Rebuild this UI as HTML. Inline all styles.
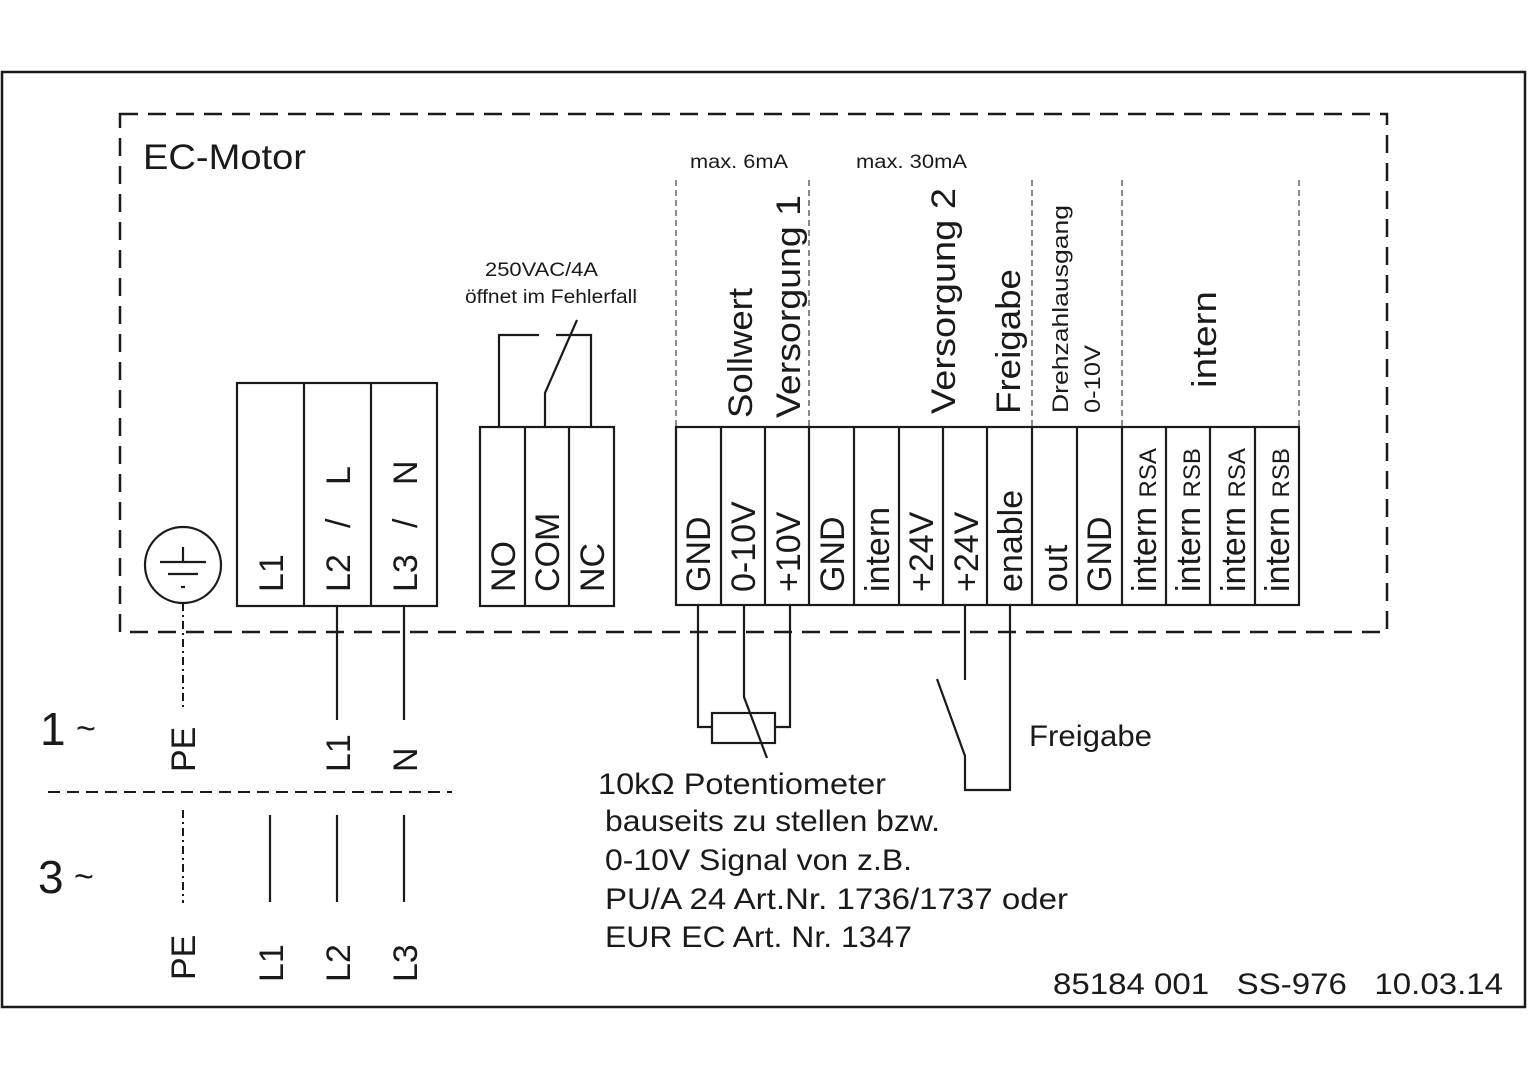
<!DOCTYPE html>
<html><head><meta charset="utf-8"><style>
html,body{margin:0;padding:0;background:#fff;}
svg{display:block;}
text{font-family:"Liberation Sans",sans-serif;fill:#1a1a1a;}
</style></head><body>
<svg width="1528" height="1080" viewBox="0 0 1528 1080" xmlns="http://www.w3.org/2000/svg">
<g fill="none" stroke="#1a1a1a">
<rect x="2" y="72" width="1523" height="935" stroke-width="2.5"/>
<rect x="120" y="114" width="1267" height="518" stroke-width="2.5" stroke-dasharray="18 10"/>
<g stroke-width="1" stroke-dasharray="6 4">
<line x1="676" y1="180" x2="676" y2="427"/>
<line x1="809" y1="180" x2="809" y2="427"/>
<line x1="1032" y1="180" x2="1032" y2="427"/>
<line x1="1122" y1="180" x2="1122" y2="427"/>
<line x1="1299" y1="180" x2="1299" y2="427"/>
</g>
<g stroke-width="2.2">
<circle cx="183" cy="565" r="38"/>
<line x1="160" y1="562" x2="206" y2="562"/>
<line x1="183" y1="547" x2="183" y2="562"/>
<line x1="168" y1="574" x2="198" y2="574"/>
<line x1="181" y1="587" x2="185" y2="587"/>
<rect x="237" y="383" width="200" height="223"/>
<line x1="304" y1="383" x2="304" y2="606"/>
<line x1="371" y1="383" x2="371" y2="606"/>
<rect x="480" y="427" width="134" height="179"/>
<line x1="525" y1="427" x2="525" y2="606"/>
<line x1="569" y1="427" x2="569" y2="606"/>
<polyline points="499,427 499,335 539,335"/>
<polyline points="556,335 591,335 591,427"/>
<polyline points="545,427 545,393 577,320"/>
<rect x="676" y="427" width="623" height="178"/>
<line x1="721" y1="427" x2="721" y2="605"/>
<line x1="765" y1="427" x2="765" y2="605"/>
<line x1="809" y1="427" x2="809" y2="605"/>
<line x1="854" y1="427" x2="854" y2="605"/>
<line x1="899" y1="427" x2="899" y2="605"/>
<line x1="943" y1="427" x2="943" y2="605"/>
<line x1="987" y1="427" x2="987" y2="605"/>
<line x1="1032" y1="427" x2="1032" y2="605"/>
<line x1="1077" y1="427" x2="1077" y2="605"/>
<line x1="1122" y1="427" x2="1122" y2="605"/>
<line x1="1166" y1="427" x2="1166" y2="605"/>
<line x1="1210" y1="427" x2="1210" y2="605"/>
<line x1="1255" y1="427" x2="1255" y2="605"/>
<polyline points="698,605 698,727 712,727"/>
<polyline points="775,727 790,727 790,605"/>
<rect x="712" y="713" width="63" height="30"/>
<polyline points="744,605 744,697 767,758"/>
<line x1="965" y1="605" x2="965" y2="680"/>
<polyline points="937,679 965,756 965,790 1010,790 1010,605"/>
<line x1="337" y1="606" x2="337" y2="720"/>
<line x1="404" y1="606" x2="404" y2="720"/>
<line x1="270" y1="815" x2="270" y2="902"/>
<line x1="337" y1="815" x2="337" y2="902"/>
<line x1="404" y1="815" x2="404" y2="902"/>
</g>
<g stroke-width="2" stroke-dasharray="8 4 2 4">
<line x1="183" y1="603" x2="183" y2="708"/>
<line x1="183" y1="810" x2="183" y2="903"/>
</g>
<line x1="48" y1="792" x2="452" y2="792" stroke-width="2" stroke-dasharray="12 7"/>
</g>

<text x="143" y="169" font-size="35" textLength="163" lengthAdjust="spacingAndGlyphs">EC-Motor</text>
<text x="690" y="168" font-size="19" textLength="98" lengthAdjust="spacingAndGlyphs">max. 6mA</text>
<text x="856" y="168" font-size="19" textLength="111" lengthAdjust="spacingAndGlyphs">max. 30mA</text>
<text x="485" y="276" font-size="19" textLength="113" lengthAdjust="spacingAndGlyphs">250VAC/4A</text>
<text x="465" y="303" font-size="19" textLength="172" lengthAdjust="spacingAndGlyphs">öffnet im Fehlerfall</text>

<g font-size="34">
<text transform="translate(752,418) rotate(-90)" textLength="130" lengthAdjust="spacingAndGlyphs">Sollwert</text>
<text transform="translate(800,418) rotate(-90)" textLength="223" lengthAdjust="spacingAndGlyphs">Versorgung 1</text>
<text transform="translate(955,414) rotate(-90)" textLength="226" lengthAdjust="spacingAndGlyphs">Versorgung 2</text>
<text transform="translate(1020,414) rotate(-90)" textLength="145" lengthAdjust="spacingAndGlyphs">Freigabe</text>
<text transform="translate(1216,388) rotate(-90)" textLength="97" lengthAdjust="spacingAndGlyphs">intern</text>
</g>
<g font-size="22">
<text transform="translate(1068,413) rotate(-90)" textLength="208" lengthAdjust="spacingAndGlyphs">Drehzahlausgang</text>
<text transform="translate(1100,413) rotate(-90)" textLength="68" lengthAdjust="spacingAndGlyphs">0-10V</text>
</g>

<g font-size="34">
<text transform="translate(283,592) rotate(-90)">L1</text>
<text transform="translate(350,592) rotate(-90)">L2</text>
<text transform="translate(350,528) rotate(-90)">/</text>
<text transform="translate(350,485) rotate(-90)">L</text>
<text transform="translate(417,592) rotate(-90)">L3</text>
<text transform="translate(417,528) rotate(-90)">/</text>
<text transform="translate(417,485) rotate(-90)">N</text>
<text transform="translate(515,592) rotate(-90)">NO</text>
<text transform="translate(559,592) rotate(-90)">COM</text>
<text transform="translate(604,592) rotate(-90)">NC</text>
<text transform="translate(710,592) rotate(-90)">GND</text>
<text transform="translate(755,592) rotate(-90)">0-10V</text>
<text transform="translate(800,592) rotate(-90)">+10V</text>
<text transform="translate(844,592) rotate(-90)">GND</text>
<text transform="translate(889,592) rotate(-90)">intern</text>
<text transform="translate(933,592) rotate(-90)">+24V</text>
<text transform="translate(978,592) rotate(-90)">+24V</text>
<text transform="translate(1022,592) rotate(-90)">enable</text>
<text transform="translate(1067,592) rotate(-90)">out</text>
<text transform="translate(1111,592) rotate(-90)">GND</text>
<text transform="translate(1156,592) rotate(-90)">intern <tspan font-size="24">RSA</tspan></text>
<text transform="translate(1200,592) rotate(-90)">intern <tspan font-size="24">RSB</tspan></text>
<text transform="translate(1245,592) rotate(-90)">intern <tspan font-size="24">RSA</tspan></text>
<text transform="translate(1289,592) rotate(-90)">intern <tspan font-size="24">RSB</tspan></text>
<text transform="translate(195,772) rotate(-90)">PE</text>
<text transform="translate(350,772) rotate(-90)">L1</text>
<text transform="translate(417,772) rotate(-90)">N</text>
<text transform="translate(195,980) rotate(-90)">PE</text>
<text transform="translate(283,982) rotate(-90)">L1</text>
<text transform="translate(350,982) rotate(-90)">L2</text>
<text transform="translate(417,982) rotate(-90)">L3</text>
</g>
<text x="40" y="745" font-size="46">1</text>
<text x="76" y="740" font-size="34">~</text>
<text x="38" y="893" font-size="46">3</text>
<text x="74" y="888" font-size="34">~</text>

<g font-size="30">
<text x="598" y="794" textLength="288" lengthAdjust="spacingAndGlyphs">10kΩ Potentiometer</text>
<text x="605" y="831" textLength="335" lengthAdjust="spacingAndGlyphs">bauseits zu stellen bzw.</text>
<text x="605" y="870" textLength="307" lengthAdjust="spacingAndGlyphs">0-10V Signal von z.B.</text>
<text x="605" y="909" textLength="463" lengthAdjust="spacingAndGlyphs">PU/A 24 Art.Nr. 1736/1737 oder</text>
<text x="605" y="947" textLength="307" lengthAdjust="spacingAndGlyphs">EUR EC Art. Nr. 1347</text>
<text x="1029" y="746" textLength="123" lengthAdjust="spacingAndGlyphs">Freigabe</text>
<text x="1053" y="994" textLength="450" lengthAdjust="spacingAndGlyphs" xml:space="preserve">85184 001   SS-976   10.03.14</text>
</g>
</svg>
</body></html>
